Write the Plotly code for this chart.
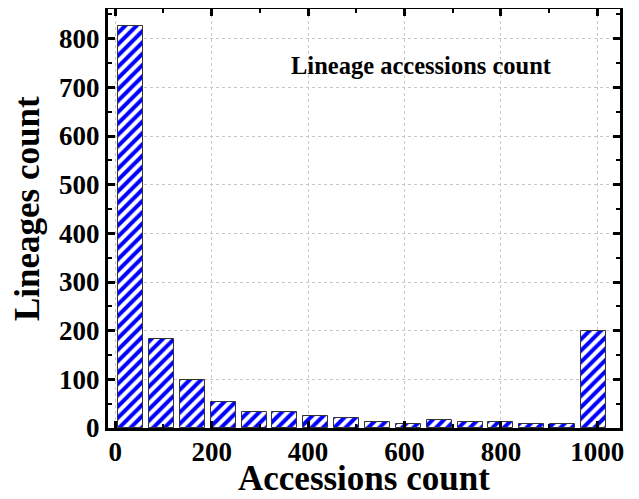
import plotly.graph_objects as go

bin_centers = [32, 96, 160, 224, 288, 352, 416, 480, 544, 608, 672, 736, 800, 864, 928, 992]
lineage_counts = [827, 183, 99, 53, 33, 33, 24, 21, 13, 9, 17, 13, 13, 9, 9, 200]
x_tick_vals = [0, 200, 400, 600, 800, 1000]
y_tick_vals = [0, 100, 200, 300, 400, 500, 600, 700, 800]

FONT = "Liberation Serif"

fig = go.Figure()
fig.add_trace(go.Bar(
    x=bin_centers,
    y=lineage_counts,
    width=52,
    marker=dict(
        color="white",
        line=dict(color="#333333", width=1),
        pattern=dict(shape="/", fgcolor="#0000ff", bgcolor="white", fgopacity=1,
                     size=8, solidity=0.5),
    ),
    showlegend=False,
))

axis_common = dict(
    showline=True, linecolor="black", linewidth=3, mirror="allticks",
    ticks="inside", tickwidth=2.5, ticklen=7, tickcolor="black",
    showgrid=True, gridcolor="#c8c8c8", gridwidth=1, griddash="3px,3px",
    zeroline=False, automargin=False,
    tickfont=dict(family=FONT, size=27, color="black", weight="bold"),
)

fig.update_xaxes(
    range=[-15, 1047], tickvals=x_tick_vals, ticklabelstandoff=-2,
    minor=dict(dtick=100, tick0=0, ticks="inside", ticklen=4, tickwidth=2, tickcolor="black", showgrid=False),
    **axis_common,
)
fig.update_yaxes(
    range=[0, 861], tickvals=y_tick_vals,
    minor=dict(dtick=50, tick0=0, ticks="inside", ticklen=4, tickwidth=2, tickcolor="black", showgrid=False),
    **axis_common,
)

fig.add_annotation(
    text="Accessions count", x=0.5, y=-0.12, xref="paper", yref="paper",
    showarrow=False, xanchor="center", yanchor="middle",
    font=dict(family=FONT, size=35, color="black", weight="bold"),
)
fig.add_annotation(
    text="Lineages count", x=-0.156, y=0.523, xref="paper", yref="paper",
    showarrow=False, xanchor="center", yanchor="middle", textangle=-90,
    font=dict(family=FONT, size=35, color="black", weight="bold"),
)
fig.add_annotation(
    text="Lineage accessions count", x=0.613, y=0.864, xref="paper", yref="paper",
    showarrow=False, xanchor="center", yanchor="middle",
    font=dict(family=FONT, size=24.5, color="black", weight="bold"),
)

# The page body has an 8px default margin, so the figure is sized to fit the window.
fig.update_layout(
    width=631, height=491,
    margin=dict(l=100, r=19, t=1, b=71, autoexpand=False),
    plot_bgcolor="white", paper_bgcolor="white",
    bargap=0,
)

fig.write_html("out.html")
